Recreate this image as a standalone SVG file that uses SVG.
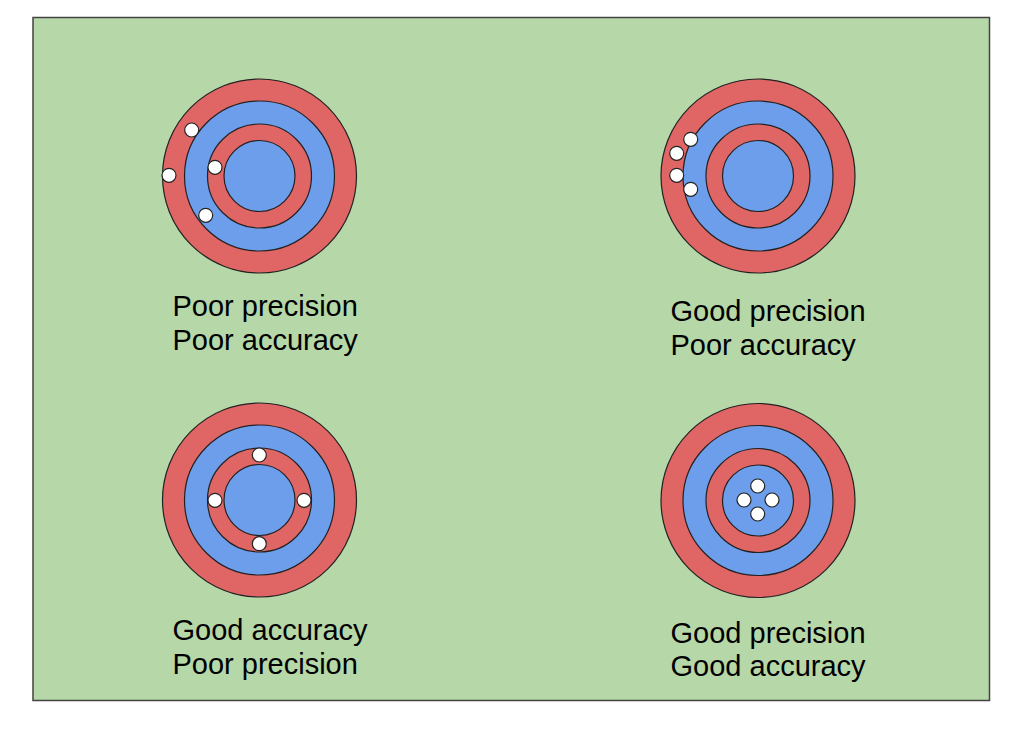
<svg xmlns="http://www.w3.org/2000/svg" xmlns:xlink="http://www.w3.org/1999/xlink" width="1024" height="737" viewBox="0 0 1024 737">
<style>
.ring{stroke:#222;stroke-width:1.2}
.red{fill:#e06666}
.blue{fill:#6d9eeb}
.dot{fill:#fff;stroke:#222;stroke-width:1.2}
.lbl{font-family:"Liberation Sans",Arial,sans-serif;font-size:29px;fill:#000}
</style>
<defs>
<g id="target">
<circle class="ring red" cx="0" cy="0" r="97"/>
<circle class="ring blue" cx="0" cy="0" r="75"/>
<circle class="ring red" cx="0" cy="0" r="52"/>
<circle class="ring blue" cx="0" cy="0" r="35.5"/>
</g>
</defs>
<rect width="1024" height="737" fill="#fff"/>
<rect x="33" y="17.5" width="956.5" height="683" fill="#b6d7a8" stroke="#434343" stroke-width="1.5"/>

<g id="target-tl">
<use xlink:href="#target" href="#target" x="259.5" y="176"/>
<circle class="dot" cx="191.7" cy="130" r="7"/>
<circle class="dot" cx="169" cy="175.3" r="7"/>
<circle class="dot" cx="215" cy="167.3" r="7"/>
<circle class="dot" cx="205.7" cy="215.3" r="7"/>
<text class="lbl" x="172.5" y="316">Poor precision</text>
<text class="lbl" x="172.5" y="350">Poor accuracy</text>
</g>

<g id="target-tr">
<use xlink:href="#target" href="#target" x="758" y="176"/>
<circle class="dot" cx="690.7" cy="139.3" r="7"/>
<circle class="dot" cx="676.7" cy="153.3" r="7"/>
<circle class="dot" cx="676.7" cy="175.3" r="7"/>
<circle class="dot" cx="690.7" cy="189.3" r="7"/>
<text class="lbl" x="670.5" y="320.5">Good precision</text>
<text class="lbl" x="670.5" y="354.5">Poor accuracy</text>
</g>

<g id="target-bl">
<use xlink:href="#target" href="#target" x="259.5" y="500"/>
<circle class="dot" cx="259.3" cy="455" r="7"/>
<circle class="dot" cx="215" cy="500.3" r="7"/>
<circle class="dot" cx="304" cy="500.3" r="7"/>
<circle class="dot" cx="259.3" cy="543.7" r="7"/>
<text class="lbl" x="172.5" y="640">Good accuracy</text>
<text class="lbl" x="172.5" y="673.5">Poor precision</text>
</g>

<g id="target-br">
<use xlink:href="#target" href="#target" x="758" y="500.5"/>
<circle class="dot" cx="757.7" cy="486" r="7"/>
<circle class="dot" cx="744" cy="500" r="7"/>
<circle class="dot" cx="772" cy="500" r="7"/>
<circle class="dot" cx="757.7" cy="514" r="7"/>
<text class="lbl" x="670.5" y="642.5">Good precision</text>
<text class="lbl" x="670.5" y="676">Good accuracy</text>
</g>
</svg>
